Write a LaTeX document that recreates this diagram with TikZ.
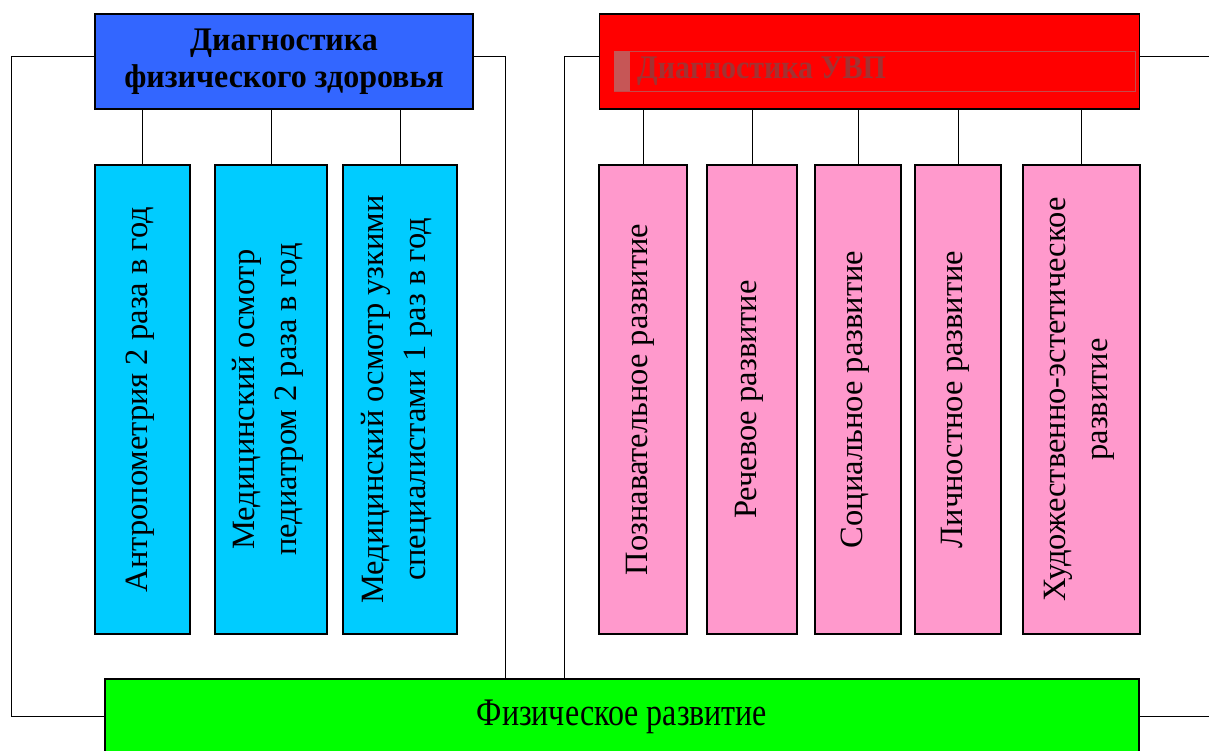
\documentclass[tikz,border=0pt]{standalone}
\usepackage{fontspec}
\setmainfont{Liberation Serif}
\usepackage{graphicx}
\usetikzlibrary{positioning}

\definecolor{headblue}{HTML}{3366FF}
\definecolor{headred}{HTML}{FF0000}
\definecolor{leafcyan}{HTML}{00CCFF}
\definecolor{leafpink}{HTML}{FF99CC}
\definecolor{basegreen}{HTML}{00FF00}
\definecolor{framered}{HTML}{C44A4A}
\definecolor{tabred}{HTML}{C65656}
\definecolor{textred}{HTML}{A23232}

% rotated leaf text and vertically stretched header text
\newcommand{\vtext}[1]{\hspace*{-7pt}\rotatebox{90}{\fontsize{32.5}{42}\selectfont\begin{tabular}{@{}c@{}}#1\end{tabular}}}
\newcommand{\htext}[2][1.22]{\scalebox{1}[#1]{\begin{tabular}{@{}c@{}}#2\end{tabular}}}

\tikzset{
  headbox/.style={draw,line width=1.5pt,minimum height=95pt,inner sep=0pt,
    font=\fontsize{32}{36}\selectfont\bfseries},
  leafbox/.style={draw,line width=1.5pt,minimum height=469pt,inner sep=0pt},
  basebox/.style={draw,line width=1.5pt,fill=basegreen,minimum height=75pt,inner sep=0pt,
    font=\fontsize{32}{36}\selectfont},
  link/.style={line width=1pt}
}

\begin{document}
\begin{tikzpicture}[x=1pt,y=-1pt]
  \useasboundingbox (0,0) rectangle (1209,751);

  % headers
  \node[headbox,fill=headblue,minimum width=378pt] (health) at (284,61.5) {\raisebox{-4.3pt}{\htext[1.03]{Диагностика\\физического здоровья}}};
  \node[headbox,fill=headred,minimum width=540pt] (uvp) at (869.5,61.5) {};
  \node[draw=framered,line width=1pt,minimum width=521pt,minimum height=40pt,inner sep=0pt] (uvpframe) at (874.5,71.5) {};
  \fill[tabred] (uvpframe.north west) rectangle ++(16,40);
  \node[anchor=west,inner sep=0pt,text=textred,font=\fontsize{30}{32}\selectfont\bfseries] (uvptext) at (637,71) {\scalebox{1}[1.1]{Диагностика УВП}};

  % health leaves
  \node[leafbox,fill=leafcyan,minimum width=95pt] (h1) at (142.5,399.5) {\vtext{Антропометрия 2 раза в год}};
  \node[leafbox,fill=leafcyan,minimum width=112pt] (h2) at (271,399.5) {\vtext{Медицинский осмотр\\педиатром 2 раза в год}};
  \node[leafbox,fill=leafcyan,minimum width=114pt] (h3) at (400,399.5) {\vtext{Медицинский осмотр узкими\\специалистами 1 раз в год}};

  % uvp leaves
  \node[leafbox,fill=leafpink,minimum width=88pt] (u1) at (643,399.5) {\vtext{Познавательное развитие}};
  \node[leafbox,fill=leafpink,minimum width=90pt] (u2) at (752,399.5) {\vtext{Речевое развитие}};
  \node[leafbox,fill=leafpink,minimum width=86pt] (u3) at (858,399.5) {\vtext{Социальное развитие}};
  \node[leafbox,fill=leafpink,minimum width=86pt] (u4) at (958,399.5) {\vtext{Личностное развитие}};
  \node[leafbox,fill=leafpink,minimum width=117pt] (u5) at (1081.5,399.5) {\vtext{Художественно-эстетическое\\развитие}};

  % base
  \node[basebox,minimum width=1034pt] (phys) at (622,716.5) {\raisebox{3pt}{\htext{Физическое развитие}}};

  % links
  \foreach \leaf in {h1,h2,h3}
    \draw[link] (\leaf.north) -- (\leaf.north |- health.south);
  \foreach \leaf in {u1,u2,u3,u4,u5}
    \draw[link] (\leaf.north) -- (\leaf.north |- uvp.south);

  \coordinate (farleft) at (11,0);
  \coordinate (midleft) at (505,0);
  \coordinate (midright) at (564,0);
  \coordinate (farright) at (1209,0);
  \coordinate (healthout) at ([yshift=4.5pt]health.west);
  \coordinate (healthin) at ([yshift=4.5pt]health.east);
  \coordinate (uvpin) at ([yshift=4.5pt]uvp.west);
  \coordinate (uvpout) at ([yshift=4.5pt]uvp.east);

  \draw[link] (healthout) -| (farleft |- phys.west) -- (phys.west);
  \draw[link] (healthin) -| (midleft |- phys.north);
  \draw[link] (uvpin) -| (midright |- phys.north);
  \draw[link] (uvpout) -- (farright |- uvpout);
  \draw[link] (phys.east) -- (farright |- phys.east);
\end{tikzpicture}
\end{document}
